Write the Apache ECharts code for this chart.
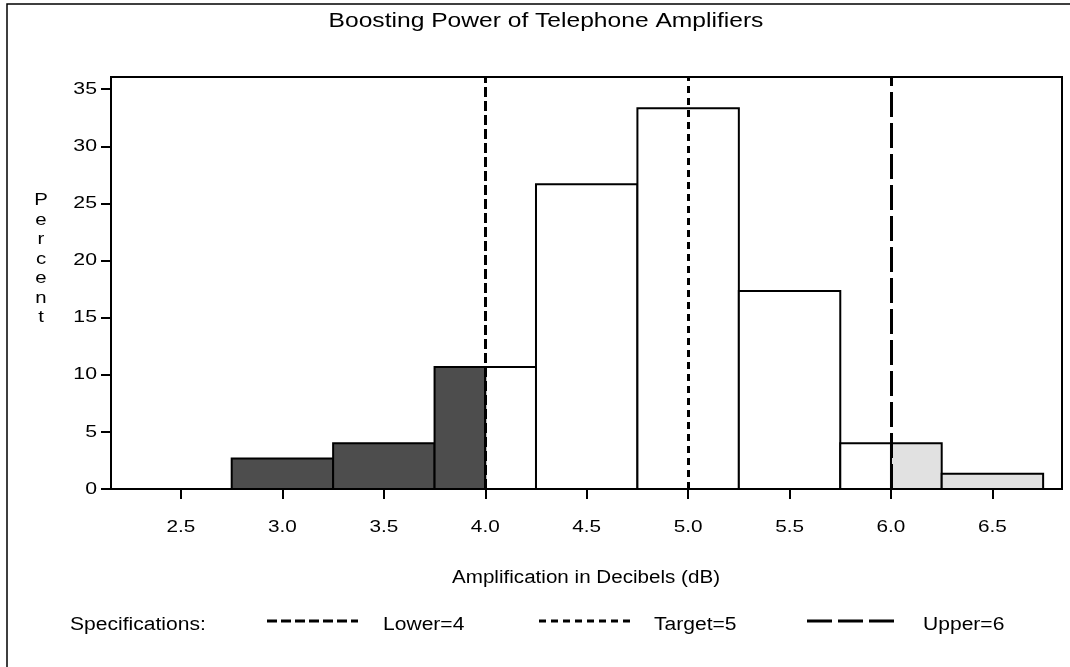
<!DOCTYPE html>
<html><head><meta charset="utf-8">
<script src="https://cdn.jsdelivr.net/npm/echarts@6/dist/echarts.min.js"></script>
<style>html,body{margin:0;padding:0;background:#fff}#c{width:1070px;height:667px}</style>
</head><body><div id="c"></div>
<script>
// ---- data ----
const binMid = [2.5, 3.0, 3.5, 4.0, 4.5, 5.0, 5.5, 6.0, 6.5];
const pct = [0, 2.67, 4.00, 10.67, 26.67, 33.33, 17.33, 4.00, 1.33];
const binWidth = 0.5;
const xTicks = [2.5, 3.0, 3.5, 4.0, 4.5, 5.0, 5.5, 6.0, 6.5];
const yTicks = [0, 5, 10, 15, 20, 25, 30, 35];
const specNames = ['Lower', 'Target', 'Upper'];
const specValues = [4, 5, 6];
const titleText = 'Boosting Power of Telephone Amplifiers';
const xName = 'Amplification in Decibels (dB)';
const yName = 'Percent';
const legendTitle = 'Specifications:';

const FONT = '"Liberation Sans", Arial, sans-serif';
const dashes = [[10, 4], [7, 5], [25, 6]];
const lowerSpec = specValues[0], upperSpec = specValues[2];

const chart = echarts.init(document.getElementById('c'), null, {renderer: 'canvas'});
const histData = binMid.map((m, i) => [m, pct[i]]);

function renderBar(params, api) {
  const mid = api.value(0), h = api.value(1);
  if (h <= 0) return null;
  const x0 = mid - binWidth / 2, x1 = mid + binWidth / 2;
  const segs = [];
  const a = Math.min(x1, lowerSpec);
  if (a > x0) segs.push([x0, a, '#4d4d4d']);
  const b0 = Math.max(x0, lowerSpec), b1 = Math.min(x1, upperSpec);
  if (b1 > b0) segs.push([b0, b1, '#ffffff']);
  const c0 = Math.max(x0, upperSpec);
  if (x1 > c0) segs.push([c0, x1, '#e1e1e1']);
  const children = segs.map(s => {
    const p0 = api.coord([s[0], h]);
    const p1 = api.coord([s[1], 0]);
    return {
      type: 'rect',
      shape: {x: p0[0], y: p0[1], width: p1[0] - p0[0], height: p1[1] - p0[1]},
      style: {fill: s[2], stroke: '#000', lineWidth: 2}
    };
  });
  return {type: 'group', children};
}

const specSeries = specValues.map((v, i) => ({
  type: 'line', name: specNames[i], data: [], silent: true,
  markLine: {
    silent: true, symbol: 'none', animation: false,
    label: {show: false},
    lineStyle: {color: '#000', width: 3, type: dashes[i]},
    data: [{xAxis: v}]
  }
}));

const option = {
  animation: false,
  backgroundColor: '#fff',
  grid: {left: 111, top: 77, right: 8, bottom: 178, show: true, borderColor: '#000', borderWidth: 2, backgroundColor: 'transparent'},
  xAxis: {
    type: 'value', min: 2.155, max: 6.843,
    axisLine: {show: true, onZero: false, lineStyle: {color: '#000', width: 2}},
    axisTick: {show: true, length: 10, lineStyle: {color: '#000', width: 2}, customValues: xTicks},
    axisLabel: {show: false},
    splitLine: {show: false}
  },
  yAxis: {
    type: 'value', min: 0, max: 36.07,
    axisLine: {show: true, lineStyle: {color: '#000', width: 2}},
    axisTick: {show: true, length: 10, lineStyle: {color: '#000', width: 2}, customValues: yTicks},
    axisLabel: {show: false},
    splitLine: {show: false}
  },
  series: [{
    type: 'custom', name: 'Percent', renderItem: renderBar, data: histData,
    encode: {x: 0, y: 1}, clip: true, z: 2
  }].concat(specSeries)
};
chart.setOption(option);

// ---- text (real text, slightly widened to match the reference lettering) ----
function txt(x, y, s, size, align, sx, extra) {
  return Object.assign({
    type: 'text', x: x, y: y, scaleX: sx, silent: true, z: 10,
    style: {text: s, font: size + 'px ' + FONT, fill: '#000', align: align, verticalAlign: 'middle'}
  }, extra || {});
}

const g = [
  {type: 'rect', shape: {x: 7, y: 4, width: 1080, height: 670}, style: {fill: 'none', stroke: '#000', lineWidth: 1.5}, silent: true, z: -1},
  txt(546, 21, titleText, 20, 'center', 1.23),
  txt(586, 578, xName, 18, 'center', 1.145),
  {type: 'text', x: 41, y: 191, scaleX: 1.2, silent: true,
   style: {text: yName.split('').join('\n'), font: '17px ' + FONT, fill: '#000', lineHeight: 19.5, align: 'center', verticalAlign: 'top'}}
];
xTicks.forEach(v => {
  const p = chart.convertToPixel({gridIndex: 0}, [v, 0]);
  g.push(txt(p[0], 527, v.toFixed(1), 17, 'center', 1.22));
});
yTicks.forEach(v => {
  const p = chart.convertToPixel({gridIndex: 0}, [2.5, v]);
  g.push(txt(97, p[1], String(v), 17, 'right', 1.25));
});

// legend
const legX = [[267, 358, 383], [539, 630, 654], [807, 895, 923]];
const legY = 621;
g.push(txt(70, 625, legendTitle, 18, 'left', 1.17));
specNames.forEach((n, i) => {
  g.push({type: 'line', silent: true, shape: {x1: legX[i][0], y1: legY, x2: legX[i][1], y2: legY},
    style: {stroke: '#000', lineWidth: 3, lineDash: dashes[i]}});
  g.push(txt(legX[i][2], 625, n + '=' + specValues[i], 18, 'left', 1.17));
});
chart.setOption({graphic: g});
</script>
</body></html>
